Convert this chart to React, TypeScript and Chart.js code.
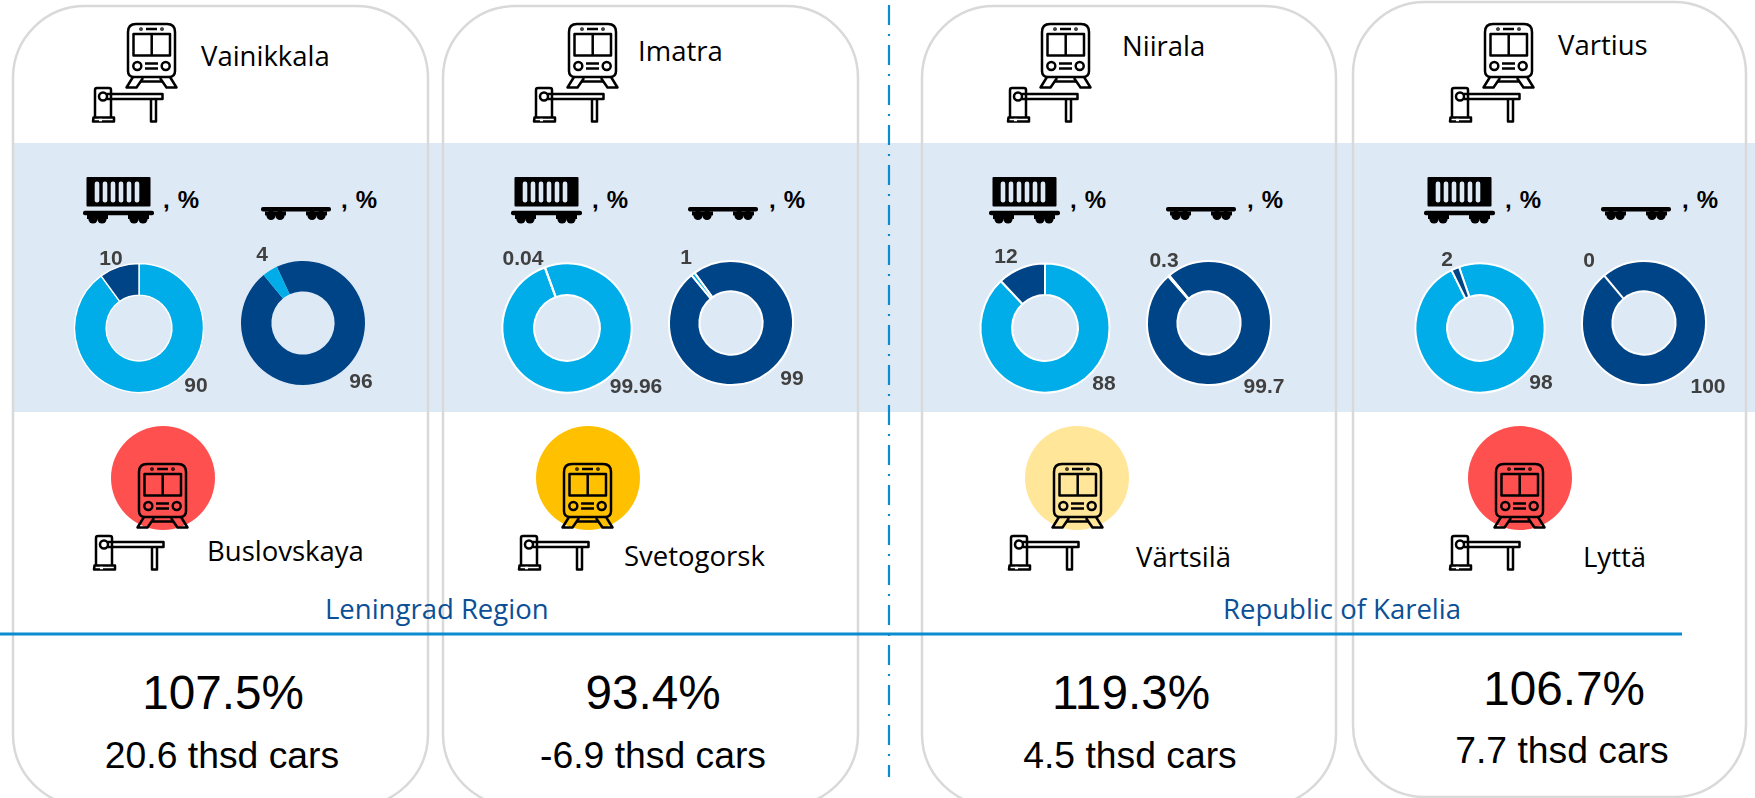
import React, { useEffect, useRef } from "react";
import { Chart, registerables } from "chart.js";

Chart.register(...registerables);

// ---- data ----
const finnishStations = ["Vainikkala", "Imatra", "Niirala", "Vartius"];
const russianStations = ["Buslovskaya", "Svetogorsk", "Värtsilä", "Lyttä"];
const regions = ["Leningrad Region", "Republic of Karelia"];
const growthLabels = ["107.5%", "93.4%", "119.3%", "106.7%"];
const changeLabels = ["20.6 thsd cars", "-6.9 thsd cars", "4.5 thsd cars", "7.7 thsd cars"];
const covered = [90, 99.96, 88, 98];
const coveredOther = [10, 0.04, 12, 2];
const platform = [96, 99, 99.7, 100];
const platformOther = [4, 1, 0.3, 0];

// ---- layout and style ----
const LIGHT = "#00ADE8";
const DARK = "#004488";
const BAND = "#DEE9F6";
const LABEL = "#404040";
const signalColors = ["#FF5050", "#FFC000", "#FFE699", "#FF5050"];

const S = 200;
const coveredCenters = [[139, 328], [567, 328], [1045, 328], [1480, 328]];
const platformCenters = [[303, 323], [731, 323], [1209, 323], [1644, 323]];
const coveredRotation = [0, -20, 0, -19];
const platformRotation = [-25, -36, -40, -40];
const coveredBorder = [1.4, 2, 2, 2];
const platformBorder = [0, 2, 2, 2];
const coveredMinorPos = [[111, 259], [523, 259], [1006, 257], [1447, 260]];
const coveredMajorPos = [[196, 386], [636, 387], [1104, 384], [1541, 383]];
const platformMinorPos = [[262, 255], [686, 258], [1164, 261], [1589, 261]];
const platformMajorPos = [[361, 382], [792, 379], [1264, 387], [1708, 387]];

const cards = [
  { x: 13, y: 6, w: 415, h: 800 },
  { x: 443, y: 6, w: 415, h: 800 },
  { x: 922, y: 6, w: 414, h: 800 },
  { x: 1353, y: 2, w: 393, h: 795 },
];
const topTrainX = [125, 566, 1039, 1482];
const topBarrierX = [92, 533, 1007, 1449];
const bottomTrainX = [136, 561, 1051, 1493];
const bottomBarrierX = [93, 518, 1008, 1449];
const signalX = [163, 588, 1077, 1520];
const wagonX = [83, 511, 989, 1424];
const flatX = [261, 688, 1166, 1601];
const wagonPctX = [163, 592, 1070, 1505];
const flatPctX = [341, 769, 1247, 1682];
const topNamePos = [[201, 66], [638, 61], [1122, 56], [1558, 55]];
const bottomNamePos = [[207, 561], [624, 566], [1136, 567], [1583, 567]];
const regionPos = [[325, 619], [1223, 619]];
const growthPos = [[223, 709], [653, 709], [1131, 709], [1564, 705]];
const changePos = [[222, 768], [653, 768], [1130, 768], [1562, 763]];

const SANS = "'Liberation Sans', Arial, sans-serif";
const NAME = "'Open Sans', sans-serif";

function Donut({ values, colors, center, rotation, border, radius, minorPos, majorPos }: any) {
  const ref = useRef<HTMLCanvasElement>(null);
  useEffect(() => {
    const ox = center[0] - S / 2;
    const oy = center[1] - S / 2;
    const chart = new Chart(ref.current!, {
      type: "doughnut",
      data: {
        labels: ["Main", "Other"],
        datasets: [
          {
            data: values,
            backgroundColor: colors,
            borderColor: "#FFFFFF",
            borderWidth: border,
          },
        ],
      },
      options: {
        animation: false,
        responsive: false,
        devicePixelRatio: 1,
        rotation,
        radius,
        cutout: "51%",
        layout: { padding: 0 },
        plugins: { legend: { display: false }, tooltip: { enabled: false } },
      },
      plugins: [
        {
          id: "valueLabels",
          afterDraw(c: any) {
            const ctx = c.ctx;
            ctx.save();
            ctx.font = `bold 21px ${SANS}`;
            ctx.fillStyle = LABEL;
            ctx.textAlign = "center";
            ctx.textBaseline = "middle";
            ctx.fillText(String(values[1]), minorPos[0] - ox, minorPos[1] - oy);
            ctx.fillText(String(values[0]), majorPos[0] - ox, majorPos[1] - oy);
            ctx.restore();
          },
        },
      ],
    } as any);
    return () => chart.destroy();
  }, []);
  return (
    <canvas
      ref={ref}
      width={S}
      height={S}
      style={{ position: "absolute", left: center[0] - S / 2, top: center[1] - S / 2, width: S, height: S }}
    />
  );
}

function Train({ x, y }: { x: number; y: number }) {
  return (
    <g transform={`translate(${x} ${y})`} fill="none" stroke="#000" strokeWidth={2.5} strokeLinejoin="round">
      <path d="M3 9 Q3 1 11 1 L42 1 Q50 1 50 9 L50 48 Q50 54 44 54 L9 54 Q3 54 3 48 Z" />
      <rect x={8.5} y={11} width={36.5} height={21.5} />
      <line x1={26.7} y1={11} x2={26.7} y2={32.5} />
      <line x1={21} y1={6} x2={32} y2={6} />
      <circle cx={16} cy={6} r={0.6} fill="#000" />
      <circle cx={37} cy={6} r={0.6} fill="#000" />
      <circle cx={12.3} cy={43} r={4} />
      <circle cx={40.7} cy={43} r={4} />
      <line x1={20} y1={40.5} x2={33} y2={40.5} />
      <line x1={20} y1={45.5} x2={33} y2={45.5} />
      <path d="M8 54 L1.5 64.5 L11.5 64.5 L18 55" />
      <path d="M45 54 L51.5 64.5 L41.5 64.5 L35 55" />
      <line x1={15} y1={58.5} x2={38} y2={58.5} />
    </g>
  );
}

function Barrier({ x, y }: { x: number; y: number }) {
  return (
    <g transform={`translate(${x} ${y})`} fill="none" stroke="#000" strokeWidth={2.5} strokeLinejoin="round">
      <path d="M3 30 L3 3 Q3 1 5 1 L17 1 Q19 1 19 3 L19 30" />
      <path d="M1.5 30.5 L22 30.5 L22 34.5 L1 34.5 Z" />
      <line x1={7} y1={33} x2={10} y2={33} stroke="#fff" />
      <circle cx={11} cy={9.5} r={4} fill="#fff" />
      <path d="M15 7 L70.5 7 L70.5 12 L15 12" />
      <path d="M59 12 L59 34.5 L64 34.5 L64 12" />
    </g>
  );
}

function Bogies() {
  return (
    <g fill="#000">
      <rect x={4} y={0} width={21} height={4} />
      <circle cx={10} cy={4} r={4.6} />
      <circle cx={19} cy={4} r={4.6} />
      <rect x={45} y={0} width={21} height={4} />
      <circle cx={51} cy={4} r={4.6} />
      <circle cx={60} cy={4} r={4.6} />
    </g>
  );
}

function Wagon({ x, y }: { x: number; y: number }) {
  const slits = [11.7, 19.7, 27.7, 35.7, 43.7, 51.7];
  return (
    <g transform={`translate(${x} ${y})`}>
      <rect x={3.5} y={0} width={64} height={29.5} rx={1} fill="#000" />
      {slits.map((s) => (
        <rect key={s} x={s} y={4.5} width={4.6} height={21} rx={2.2} fill={BAND} />
      ))}
      <rect x={0} y={33.7} width={71} height={4.6} rx={2} fill="#000" />
      <g transform="translate(0 38)">
        <Bogies />
      </g>
    </g>
  );
}

function Flat({ x, y }: { x: number; y: number }) {
  return (
    <g transform={`translate(${x} ${y})`}>
      <rect x={0} y={0} width={70} height={4.6} rx={2} fill="#000" />
      <g transform="translate(0 4.4)">
        <Bogies />
      </g>
    </g>
  );
}

function Backdrop() {
  return (
    <svg
      width={1755}
      height={798}
      viewBox="0 0 1755 798"
      style={{ position: "absolute", left: 0, top: 0, display: "block" }}
    >
      <rect x={13} y={143} width={1742} height={269} fill={BAND} />
      {cards.map((c, i) => (
        <rect key={i} x={c.x} y={c.y} width={c.w} height={c.h} rx={72} fill="none" stroke="#D9D9D9" strokeWidth={2.5} />
      ))}
      <line x1={889} y1={5} x2={889} y2={777} stroke="#0B8BD0" strokeWidth={2.2} strokeDasharray="20 9 2 9" />
      <line x1={0} y1={634} x2={1682} y2={634} stroke="#0B8BD0" strokeWidth={2.8} />

      {finnishStations.map((name, i) => (
        <g key={name}>
          <Train x={topTrainX[i]} y={23} />
          <Barrier x={topBarrierX[i]} y={87} />
          <text x={topNamePos[i][0]} y={topNamePos[i][1]} fontFamily={NAME} fontSize={27.5}>{name}</text>
          <Wagon x={wagonX[i]} y={177} />
          <Flat x={flatX[i]} y={207} />
          <text x={wagonPctX[i]} y={208} fontFamily={SANS} fontWeight="bold" fontSize={24} wordSpacing={1.5}>, %</text>
          <text x={flatPctX[i]} y={208} fontFamily={SANS} fontWeight="bold" fontSize={24} wordSpacing={1.5}>, %</text>
        </g>
      ))}

      {russianStations.map((name, i) => (
        <g key={name}>
          <circle cx={signalX[i]} cy={478} r={52} fill={signalColors[i]} />
          <Train x={bottomTrainX[i]} y={463} />
          <Barrier x={bottomBarrierX[i]} y={535} />
          <text x={bottomNamePos[i][0]} y={bottomNamePos[i][1]} fontFamily={NAME} fontSize={27.5}>{name}</text>
          <text x={growthPos[i][0]} y={growthPos[i][1]} textAnchor="middle" fontFamily={SANS} fontSize={47.7}>{growthLabels[i]}</text>
          <text x={changePos[i][0]} y={changePos[i][1]} textAnchor="middle" fontFamily={SANS} fontSize={37.3}>{changeLabels[i]}</text>
        </g>
      ))}

      {regions.map((r, i) => (
        <text key={r} x={regionPos[i][0]} y={regionPos[i][1]} fontFamily={NAME} fontSize={27.5} fill="#0B4F96">{r}</text>
      ))}
    </svg>
  );
}

export default function App() {
  return (
    <div style={{ position: "absolute", left: 0, top: 0, width: 1755, height: 798, overflow: "hidden", background: "#fff" }}>
      <Backdrop />
      {covered.map((v, i) => (
        <Donut
          key={`c${i}`}
          values={[v, coveredOther[i]]}
          colors={[LIGHT, DARK]}
          center={coveredCenters[i]}
          rotation={coveredRotation[i]}
          border={coveredBorder[i]}
          radius={64.5}
          minorPos={coveredMinorPos[i]}
          majorPos={coveredMajorPos[i]}
        />
      ))}
      {platform.map((v, i) => (
        <Donut
          key={`p${i}`}
          values={[v, platformOther[i]]}
          colors={[DARK, LIGHT]}
          center={platformCenters[i]}
          rotation={platformRotation[i]}
          border={platformBorder[i]}
          radius={62}
          minorPos={platformMinorPos[i]}
          majorPos={platformMajorPos[i]}
        />
      ))}
    </div>
  );
}
